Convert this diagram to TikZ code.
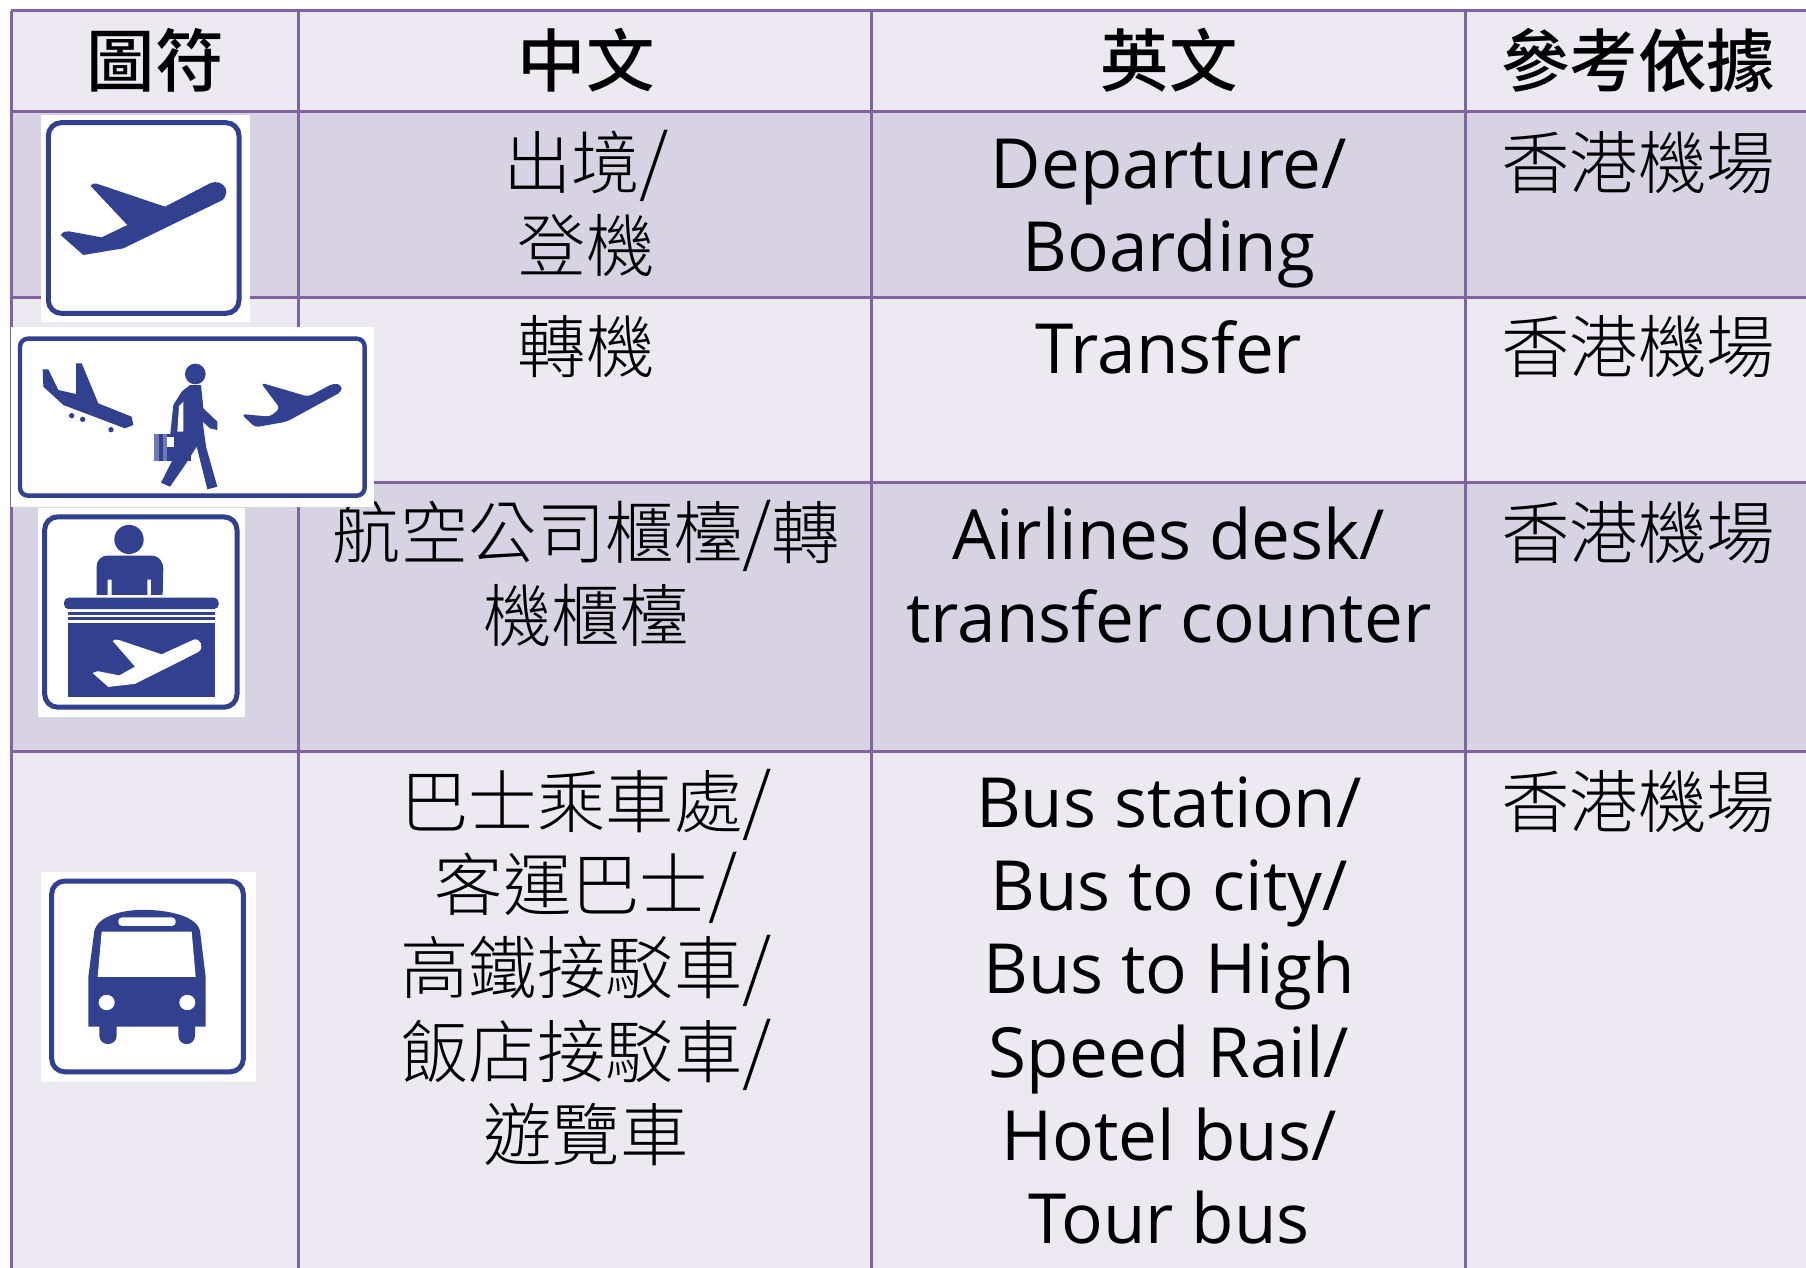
\documentclass[tikz,border=0pt]{standalone}
\usepackage{fontspec}
\newfontfamily\cjk[UprightFont={* Light},BoldFont={* Medium}]{Noto Sans CJK TC}
\newfontfamily\lat{Open Sans}
\newcommand{\fl}{\rule{0pt}{30pt}}
\newcommand{\sla}{\smash{\fontsize{37}{41.6}\selectfont /}}
\definecolor{lightrow}{HTML}{ECEAF0}
\definecolor{darkrow}{HTML}{D7D3E2}
\definecolor{gridc}{HTML}{8064A2}
\definecolor{signblue}{HTML}{32418F}
\tikzset{
  grid line/.style={draw=gridc,line width=1.5pt},
  zh/.style={anchor=north,inner sep=0pt,align=center,text=black,font={\cjk\fontsize{34.2}{41.6}\selectfont}},
  zhead/.style={anchor=north,inner sep=0pt,align=center,text=black,font={\cjk\bfseries\fontsize{34.2}{41.6}\selectfont}},
  en/.style={anchor=north,inner sep=0pt,align=center,text=black,font={\lat\fontsize{34.6}{41.6}\selectfont}},
  sign/.style={draw=signblue,fill=white,rounded corners=6.5pt},
  ink/.style={fill=signblue,draw=none},
  zoomA/.style={x=0.16667pt,y=-0.16667pt,shift={(0pt,-50pt)}},
  zoomB/.style={x=0.16667pt,y=-0.1915pt,shift={(0pt,-250pt)}},
}
\begin{document}
\begin{tikzpicture}[x=0.5pt,y=-0.5pt]
\useasboundingbox (0,0) rectangle (1806,1268);
\fill[white] (0,0) rectangle (1806,1268);
% rows
\fill[lightrow] (11,11) rectangle (1806,112);
\fill[darkrow] (11,112) rectangle (1806,297);
\fill[lightrow] (11,297) rectangle (1806,482);
\fill[darkrow] (11,482) rectangle (1806,751);
\fill[lightrow] (11,751) rectangle (1806,1268);
% grid
\foreach \yy in {11,112,297,482,751} \draw[grid line] (11,\yy) -- (1806,\yy);
\foreach \xx in {11,298,871,1465} \draw[grid line] (\xx,11) -- (\xx,1268);
% header
\node[zhead] (h1) at (155,26) {\fl 圖符};
\node[zhead] (h2) at (586,26) {\fl 中文};
\node[zhead] (h3) at (1169,26) {\fl 英文};
\node[zhead] (h4) at (1638,26) {\fl 參考依據};
% row 1
\node[zh] (a2) at (586,128) {\fl 出境\sla\\登機};
\node[en] (a3) at (1169,128) {\fl Departure/\\Boarding};
\node[zh] (a4) at (1638,128) {\fl 香港機場};
% row 2
\node[zh] (b2) at (586,312) {\fl 轉機};
\node[en] (b3) at (1169,313) {\fl Transfer};
\node[zh] (b4) at (1638,312) {\fl 香港機場};
% row 3
\node[zh] (c2) at (586,498) {\fl 航空公司櫃檯\sla 轉\\機櫃檯};
\node[en] (c3) at (1169,499) {\fl Airlines desk/\\transfer counter};
\node[zh] (c4) at (1638,498) {\fl 香港機場};
% row 4
\node[zh] (d2) at (586,767) {\fl 巴士乘車處\sla\\客運巴士\sla\\高鐵接駁車\sla\\飯店接駁車\sla\\遊覽車};
\node[en] (d3) at (1169,767) {\fl Bus station/\\Bus to city/\\Bus to High\\Speed Rail/\\Hotel bus/\\Tour bus};
\node[zh] (d4) at (1638,767) {\fl 香港機場};
% icon 1: departure
\begin{scope}[zoomA]
\fill[white] (123,45) rectangle (750,665);
\draw[sign,line width=2.5pt] (145,68) rectangle (717,640);
\fill[ink] (272,258) .. controls (276,250) and (282,249) .. (290,251) -- (495,320) -- (630,250) .. controls (662,235) and (697,268) .. (668,300) -- (370,445) -- (250,465) -- (182,405) .. controls (188,396) and (198,392) .. (207,394) -- (305,412) -- (382,375) -- cycle;
\end{scope}
% icon 2: transfer
\begin{scope}[zoomA]
\fill[white] (33,681) rectangle (1122,1222);
\draw[sign,rounded corners=4pt,line width=2.2pt] (60,716) rectangle (1094,1187);
\fill[ink] (128,808) -- (145,808) -- (175,870) -- (228,882) -- (228,790) -- (245,790) -- (295,910) -- (395,950) -- (400,975) -- (375,985) -- (190,915) -- (130,860) -- cycle;
\fill[ink] (215,947) circle[radius=8] (248,958) circle[radius=8] (333,989) circle[radius=8];
\fill[ink] (586,822) circle[radius=31];
\fill[ink] (570,855) -- (603,855) -- (610,925) -- (652,965) -- (652,990) -- (630,985) -- (608,965) -- (618,1040) -- (652,1160) -- (622,1168) -- (590,1040) -- (555,1095) -- (510,1160) -- (483,1148) -- (515,1085) -- (511,1000) -- (520,915) -- (545,875) -- cycle;
\fill[white] (537,918) -- (550,905) -- (550,995) -- (532,995) -- cycle;
\fill[signblue!70] (463,1003) rectangle (495,1082);
\fill[ink] (478,1003) rectangle (572,1082);
\fill[signblue!70] (490,1003) rectangle (500,1082);
\fill[white] (500,1012) rectangle (522,1042);
\fill[ink,rounded corners=2pt] (782,848) -- (925,890) -- (1000,850) -- (1025,855) -- (1025,875) -- (860,965) -- (765,982) -- (724,942) -- (810,950) -- (840,925) -- cycle;
\end{scope}
% icon 3: airline desk
\begin{scope}[zoomB]
\fill[white] (114,20) rectangle (735,567);
\draw[sign,line width=2.5pt] (134,44) rectangle (711,541);
\fill[ink] (387,103) ellipse[x radius=44,y radius=38];
\fill[ink] (290,248) -- (290,175) .. controls (290,155) and (305,145) .. (325,145) -- (455,145) .. controls (475,145) and (490,160) .. (490,180) -- (488,248) -- (453,248) -- (453,208) -- (442,208) -- (442,248) -- (335,248) -- (335,208) -- (323,208) -- (323,248) -- cycle;
\fill[ink,rounded corners=2.4pt] (192,255) rectangle (656,285);
\fill[ink] (205,292) rectangle (645,300);
\fill[ink] (205,305) rectangle (645,313);
\fill[ink] (205,320) rectangle (645,515);
\fill[white] (338,368) .. controls (342,364) and (350,363) .. (358,366) -- (485,403) -- (580,365) .. controls (600,358) and (615,385) .. (595,397) -- (405,480) -- (325,488) -- (278,452) .. controls (285,447) and (295,446) .. (305,449) -- (358,458) -- (405,435) -- cycle;
\end{scope}
% icon 4: bus
\begin{scope}[zoomB]
\fill[white] (123,970) rectangle (768,1520);
\draw[sign,line width=2.5pt] (155,995) rectangle (730,1493);
\fill[ink] (265,1375) -- (265,1245) -- (283,1125) .. controls (295,1085) and (370,1070) .. (430,1070) .. controls (500,1070) and (590,1085) .. (600,1125) -- (617,1245) -- (617,1375) -- (585,1375) -- (585,1398) .. controls (585,1428) and (535,1428) .. (535,1398) -- (535,1375) -- (350,1375) -- (350,1398) .. controls (350,1428) and (298,1428) .. (298,1398) -- (298,1375) -- cycle;
\fill[white] (305,1127) -- (575,1127) -- (587,1245) -- (293,1245) -- cycle;
\fill[white,rounded corners=1.8pt] (355,1090) rectangle (527,1112);
\fill[white] (320,1312) ellipse[x radius=24,y radius=20];
\fill[white] (562,1312) ellipse[x radius=24,y radius=20];
\end{scope}
\end{tikzpicture}
\end{document}
